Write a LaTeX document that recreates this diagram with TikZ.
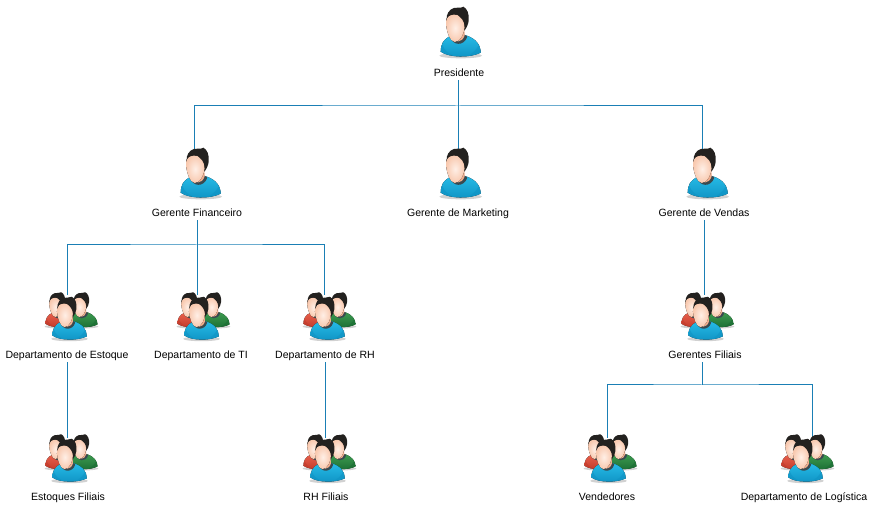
\documentclass[tikz,border=0pt]{standalone}
\usepackage{fontspec}
\setmainfont{Liberation Sans}
\definecolor{linkc}{HTML}{1A7FB5}
\definecolor{hairc}{HTML}{23211F}
\definecolor{collarc}{HTML}{3A4A50}
\definecolor{blueL}{HTML}{26BAE6}
\definecolor{blueD}{HTML}{0F93C4}
\definecolor{redL}{HTML}{E8604C}
\definecolor{redD}{HTML}{C23A2A}
\definecolor{greenL}{HTML}{3C9A50}
\definecolor{greenD}{HTML}{1C6E34}
\definecolor{skinL}{HTML}{FFEFE6}
\definecolor{skinD}{HTML}{F8C8AE}
\definecolor{skinN}{HTML}{F0AC8C}
\newcommand{\personicon}[2]{%
  % drawn in 3x zoom units, origin at icon centre
  \begin{scope}[x=0.25pt,y=-0.25pt,shift={(-120,-96)}]
    \fill[black,opacity=.18] (122,167) ellipse [x radius=64,y radius=8];
    \fill[top color=#1,bottom color=#2]
      (62,155) .. controls (62,135) and (68,118) .. (95,106)
      -- (138,106)
      .. controls (168,116) and (182,135) .. (182,158)
      .. controls (150,174) and (90,174) .. (62,155) -- cycle;
    \fill[#2,opacity=.6] (62,155) .. controls (62,148) and (64,140) .. (67,134)
      .. controls (72,150) and (85,160) .. (100,167) .. controls (85,166) and (72,162) .. (62,155) -- cycle;
    \fill[#2,opacity=.6] (182,158) .. controls (182,150) and (180,142) .. (176,135)
      .. controls (170,150) and (155,162) .. (142,168) .. controls (156,167) and (170,164) .. (182,158) -- cycle;
    \fill[collarc] (90,108) .. controls (96,138) and (132,140) .. (142,110)
      -- (134,104) -- (97,102) -- cycle;
    \fill[skinN]
      (97,95) -- (133,85) -- (134,106) .. controls (126,130) and (104,130) .. (96,108) -- cycle;
    % hair behind the face
    \fill[hairc] (80,60) .. controls (78,42) and (88,28) .. (102,24)
      .. controls (112,20) and (122,26) .. (130,20)
      .. controls (142,26) and (148,42) .. (146,62)
      .. controls (145,72) and (140,84) .. (133,92)
      -- (120,60) -- (90,50) -- cycle;
    % face
    \fill[inner color=skinL,outer color=skinD]
      (78,72) .. controls (77,56) and (84,44) .. (100,44)
      .. controls (118,42) and (134,52) .. (134,76)
      .. controls (134,100) and (120,126) .. (104,126)
      .. controls (90,124) and (80,96) .. (78,72) -- cycle;
    % fringe
    \fill[hairc] (78,62) .. controls (80,46) and (92,36) .. (108,36)
      .. controls (102,42) and (94,46) .. (86,48) .. controls (82,52) and (80,56) .. (78,62) -- cycle;
    \fill[hairc] (104,34) .. controls (122,34) and (136,46) .. (138,68) -- (134,82)
      .. controls (134,64) and (124,50) .. (104,40) -- cycle;
  \end{scope}}
\tikzset{
  px/.style={x=0.75pt,y=-0.75pt},
  link/.style={draw=linkc,line width=0.75pt},
  lbl/.style={inner sep=0pt,minimum height=10.5pt,text height=6.4pt,text depth=0.5pt,font=\fontsize{7.9pt}{10pt}\selectfont,text=black},
  iconbox/.style={inner sep=0pt,minimum width=39pt,minimum height=39pt},
  person/.pic={\personicon{blueL}{blueD}},
  crowd/.pic={
    \begin{scope}[shift={(-9pt,4.5pt)},scale=.7]
      \personicon{redL}{redD}
    \end{scope}
    \begin{scope}[shift={(9pt,4.5pt)},scale=.7]
      \personicon{greenL}{greenD}
    \end{scope}
    \begin{scope}[shift={(-1.5pt,-1.9pt)},scale=.86]
      \personicon{blueL}{blueD}
    \end{scope}
  }
}
\begin{document}
\begin{tikzpicture}[px]
\useasboundingbox (0,0) rectangle (874,505);
% labels
\node[lbl] (pres) at (459,73) {Presidente};
\node[lbl] (fin) at (197,213) {Gerente Financeiro};
\node[lbl] (mkt) at (458,213) {Gerente de Marketing};
\node[lbl] (ven) at (704,213) {Gerente de Vendas};
\node[lbl] (est) at (67,355) {Departamento de Estoque};
\node[lbl] (ti) at (201,355) {Departamento de TI};
\node[lbl] (rh) at (325,355) {Departamento de RH};
\node[lbl] (gfil) at (705,355) {Gerentes Filiais};
\node[lbl] (efil) at (68,497) {Estoques Filiais};
\node[lbl] (rfil) at (326,497) {RH Filiais};
\node[lbl] (vend) at (607,497) {Vendedores};
\node[lbl] (log) at (804,497) {Departamento de Log\'{\i}stica};
% icon boxes
\node[iconbox] (ipres) at (460,32) {};
\node[iconbox] (ifin) at (200,173) {};
\node[iconbox] (imkt) at (460,173) {};
\node[iconbox] (iven) at (707,173) {};
\node[iconbox] (iest) at (71,316) {};
\node[iconbox] (iti) at (203,316) {};
\node[iconbox] (irh) at (329,316) {};
\node[iconbox] (igfil) at (707,316) {};
\node[iconbox] (iefil) at (71,458) {};
\node[iconbox] (irfil) at (329,458) {};
\node[iconbox] (ivend) at (610,458) {};
\node[iconbox] (ilog) at (807,458) {};
% connector ends
\coordinate (jp) at (458,106);
\coordinate (tfin) at (194,150);
\coordinate (tmkt) at (458,150);
\coordinate (tven) at (702,150);
\coordinate (jf) at (197,245);
\coordinate (test) at (67,295);
\coordinate (tti) at (197,295);
\coordinate (trh) at (324,295);
\coordinate (tgfil) at (704,295);
\coordinate (tefil) at (68,438);
\coordinate (trfil) at (325,438);
\coordinate (jg) at (702,385);
\coordinate (tvend) at (607,438);
\coordinate (tlog) at (812,438);
% connectors
\draw[link] (pres.south -| tmkt) -- (tmkt);
\draw[link] (tfin) |- (jp) -| (tven);
\draw[link] (fin.south) -- (tti);
\draw[link] (test) |- (jf) -| (trh);
\draw[link] (ven.south) -- (tgfil);
\draw[link] (est.south -| test) -- (test |- tefil);
\draw[link] (rh.south) -- (trfil);
\draw[link] (gfil.south -| jg) -- (jg);
\draw[link] (tvend) |- (jg) -| (tlog);
% icons
\pic at (ipres) {person};
\pic at (ifin) {person};
\pic at (imkt) {person};
\pic at (iven) {person};
\pic at (iest) {crowd};
\pic at (iti) {crowd};
\pic at (irh) {crowd};
\pic at (igfil) {crowd};
\pic at (iefil) {crowd};
\pic at (irfil) {crowd};
\pic at (ivend) {crowd};
\pic at (ilog) {crowd};
\end{tikzpicture}
\end{document}
